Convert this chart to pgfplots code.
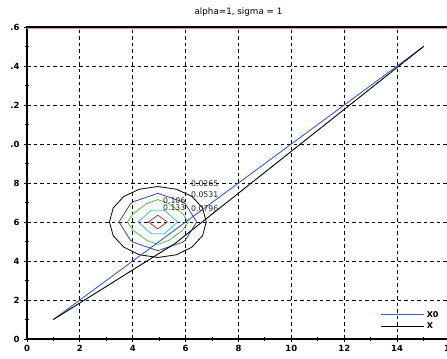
\documentclass[border=0pt]{standalone}
\usepackage{fontspec}
\setmainfont{DejaVu Sans}
\usepackage{pgfplots}
\pgfplotsset{compat=1.18}
\usetikzlibrary{calc}
\definecolor{xzero}{RGB}{60,95,205}
\definecolor{cblue}{RGB}{60,70,170}
\definecolor{cgreen}{RGB}{80,190,80}
\definecolor{ccyan}{RGB}{60,195,220}
\definecolor{cred}{RGB}{170,60,60}
\definecolor{topline}{RGB}{215,150,150}
\begin{document}
\begin{tikzpicture}
\begin{axis}[name=ax, scale only axis, width=423bp, height=312bp,
  xmin=0, xmax=16, ymin=0, ymax=16,
  xtick={0,2,...,16}, ytick={0,2,...,16},
  minor xtick={1,3,...,15}, minor ytick={1,3,...,15},
  yticklabels={0,2,4,6,8,.0,.2,.4,.6},
  xtick pos=bottom, ytick pos=left,
  grid=major,
  major grid style={black, dash pattern=on 3.5bp off 3bp, line width=0.9bp},
  minor grid style={draw=none},
  axis line style={black, line width=1.2bp},
  tick style={black, line width=0.9bp},
  tick align=center,
  major tick length=6bp, minor tick length=4bp,
  /pgf/number format/assume math mode=true,
  every tick label/.append style={font=\fontsize{8.5}{10}\selectfont\bfseries},
  yticklabel style={xshift=-1bp},
  title={alpha=1, sigma = 1},
  title style={font=\fontsize{8.8}{10}\selectfont, yshift=1bp},
  legend style={draw=none, fill=none, at={(0.978,0.022)}, anchor=south east,
    font=\fontsize{8}{9.5}\selectfont\bfseries, row sep=0bp, inner sep=0pt},
  legend cell align=left,
  legend image code/.code={\draw[#1] (0bp,0bp) -- (43bp,0bp);},
]
% contours
\addplot[black, line width=0.8bp, forget plot] coordinates {
 (6.78,6.00) (6.64,6.72) (6.24,7.31) (5.65,7.68) (4.95,7.82) (4.25,7.68) (3.66,7.31) (3.26,6.72)
 (3.12,6.00) (3.26,5.30) (3.66,4.71) (4.25,4.32) (4.95,4.18) (5.65,4.32) (6.24,4.71) (6.64,5.30) (6.78,6.00)};
\addplot[cblue, line width=0.8bp, forget plot] coordinates {
 (6.42,6.0) (5.99,6.93) (5.88,7.04) (4.95,7.47) (4.02,7.04) (3.91,6.93) (3.48,6.0)
 (3.91,5.07) (4.02,4.96) (4.95,4.53) (5.88,4.96) (5.99,5.07) (6.42,6.0)};
\addplot[cgreen, line width=0.8bp, forget plot] coordinates {
 (6.10,6.0) (5.89,6.42) (5.37,6.94) (4.95,7.15) (4.53,6.94) (4.01,6.42) (3.80,6.0)
 (4.01,5.58) (4.53,5.06) (4.95,4.85) (5.37,5.06) (5.89,5.58) (6.10,6.0)};
\addplot[ccyan, line width=0.8bp, forget plot] coordinates {
 (5.70,6.0) (5.20,6.60) (4.70,6.60) (4.20,6.0) (4.70,5.40) (5.20,5.40) (5.70,6.0)};
\addplot[cred, line width=0.8bp, forget plot] coordinates {
 (5.31,6.0) (4.95,6.35) (4.59,6.0) (4.95,5.65) (5.31,6.0)};
% trajectories
\addplot[xzero, line width=0.9bp] coordinates {(1,1) (15,15)};
\addlegendentry{X0}
\addplot[black, line width=0.9bp] coordinates {(1,1) (5.6,4.9) (15,15)};
\addlegendentry{X}
% contour labels
\begin{scope}[every node/.style={anchor=west, inner sep=0pt, font=\fontsize{7.8}{9}\selectfont, text=black!85}]
\node at (axis cs:6.20,7.95) {0.0265};
\node at (axis cs:6.20,7.38) {0.0531};
\node at (axis cs:6.20,6.67) {0.0796};
\node at (axis cs:5.14,7.08) {0.106};
\node at (axis cs:5.14,6.72) {0.133};
\end{scope}
\draw[topline, line width=0.4bp] ([yshift=-1.1bp]rel axis cs:0,1) -- ([yshift=-1.1bp]rel axis cs:1,1);
\end{axis}
\pgfresetboundingbox
\path ($(ax.south west)+(-27bp,-20bp)$) rectangle ($(ax.north east)+(-3bp,27bp)$);
\end{tikzpicture}
\end{document}
